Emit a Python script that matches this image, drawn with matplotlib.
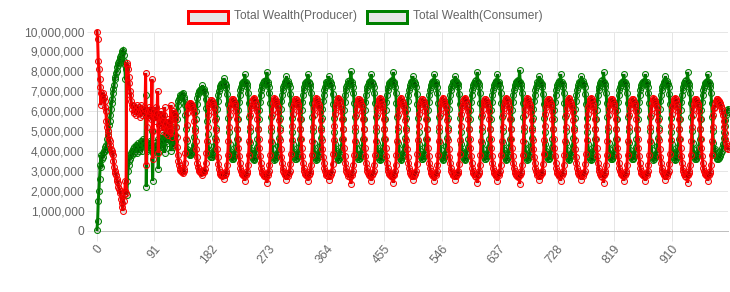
import matplotlib
matplotlib.use("Agg")
import matplotlib.pyplot as plt
from matplotlib.patches import Rectangle
from matplotlib.ticker import FuncFormatter
from matplotlib.transforms import ScaledTranslation

# Total wealth in millions, one value per step (steps 0..999)
producer_m = [
    # steps 0-144
    10.0, 9.6, 8.5, 8.1, 7.6, 7.2, 6.3, 6.9, 6.8, 6.6,
    6.9, 6.7, 6.5, 6.2, 6.0, 5.5, 5.2, 5.0, 4.8, 4.6,
    4.5, 4.3, 4.1, 4.0, 3.9, 3.8, 3.5, 3.2, 3.0, 2.9,
    2.8, 2.6, 2.5, 2.4, 2.2, 2.1, 2.0, 1.9, 1.6, 1.4,
    1.2, 1.0, 1.5, 1.8, 2.0, 2.5, 1.9, 8.4, 8.3, 8.1,
    7.7, 7.4, 7.0, 6.8, 6.5, 6.3, 6.1, 6.3, 6.0, 5.9,
    6.2, 6.0, 5.8, 6.1, 6.3, 5.9, 6.0, 6.2, 5.7, 6.0,
    6.3, 6.1, 5.8, 6.0, 6.2, 5.9, 6.1, 7.9, 3.3, 5.2,
    6.0, 5.7, 6.2, 5.8, 6.0, 5.6, 6.1, 7.6, 3.6, 5.0,
    5.8, 6.0, 5.5, 6.2, 5.7, 5.9, 7.0, 3.9, 5.3, 5.8,
    5.4, 6.0, 5.2, 5.7, 5.0, 5.5, 5.8, 6.2, 5.3, 4.9,
    5.4, 5.1, 5.6, 4.8, 5.3, 5.0, 5.5, 6.3, 4.7, 5.7,
    5.9, 6.0, 5.9, 5.8, 5.6, 5.2, 4.7, 4.2, 3.8, 3.5,
    3.3, 3.15, 3.05, 3.0, 2.95, 3.0, 2.9, 3.0, 3.1, 3.4,
    3.9, 4.6, 5.3, 5.9, 6.25,
    # steps 145-177
    6.2, 6.35, 6.4, 6.4, 6.35, 6.3, 6.2, 6.1, 5.9, 5.5, 5.0, 4.5, 4.1, 3.7, 3.4, 3.2, 3.1, 3.0, 2.95, 2.95, 2.9, 3.0, 2.8, 3.0, 2.95, 3.0, 3.1, 3.4, 3.9, 4.5, 5.2, 5.8, 6.2,
    # steps 178-211
    6.35, 6.45, 6.55, 6.55, 6.5, 6.4, 6.3, 6.2, 5.95, 5.55, 5.05, 4.55, 4.1, 3.7, 3.35, 3.1, 2.95, 2.85, 2.8, 2.8, 2.75, 2.8, 2.85, 2.6, 2.85, 2.8, 2.9, 3.0, 3.3, 3.8, 4.5, 5.2, 5.8, 6.15,
    # steps 212-244
    6.35, 6.5, 6.6, 6.6, 6.55, 6.45, 6.35, 6.25, 6.0, 5.6, 5.1, 4.6, 4.15, 3.75, 3.4, 3.15, 3.0, 2.9, 2.85, 2.8, 2.75, 2.85, 2.5, 2.85, 2.8, 2.9, 3.0, 3.3, 3.8, 4.5, 5.2, 5.8, 6.15,
    # steps 245-278
    6.3, 6.5, 6.6, 6.65, 6.6, 6.5, 6.35, 6.2, 6.0, 5.6, 5.1, 4.6, 4.15, 3.75, 3.4, 3.15, 3.0, 2.9, 2.85, 2.8, 2.75, 2.85, 2.7, 2.8, 2.4, 2.8, 2.9, 3.0, 3.3, 3.8, 4.5, 5.2, 5.8, 6.1,
    # steps 279-311
    6.4, 6.55, 6.65, 6.6, 6.5, 6.4, 6.3, 6.2, 5.95, 5.55, 5.05, 4.55, 4.1, 3.7, 3.4, 3.15, 3.0, 2.9, 2.8, 2.85, 2.75, 2.55, 2.9, 2.75, 2.85, 2.9, 3.0, 3.35, 3.85, 4.55, 5.25, 5.85, 6.2,
    # steps 312-344
    6.35, 6.5, 6.6, 6.6, 6.55, 6.45, 6.35, 6.25, 6.0, 5.6, 5.1, 4.6, 4.15, 3.75, 3.4, 3.15, 3.0, 2.9, 2.85, 2.8, 2.75, 2.85, 2.5, 2.85, 2.8, 2.9, 3.0, 3.3, 3.8, 4.5, 5.2, 5.8, 6.15,
    # steps 345-378
    6.4, 6.55, 6.65, 6.6, 6.5, 6.4, 6.3, 6.2, 5.95, 5.55, 5.05, 4.55, 4.1, 3.7, 3.4, 3.15, 3.0, 2.9, 2.8, 2.8, 2.85, 2.75, 2.55, 2.9, 2.75, 2.85, 2.9, 3.0, 3.35, 3.85, 4.55, 5.25, 5.85, 6.2,
    # steps 379-411
    6.3, 6.5, 6.6, 6.65, 6.6, 6.5, 6.35, 6.2, 6.0, 5.6, 5.1, 4.6, 4.15, 3.75, 3.4, 3.15, 3.0, 2.9, 2.85, 2.75, 2.85, 2.7, 2.8, 2.35, 2.8, 2.9, 3.0, 3.3, 3.8, 4.5, 5.2, 5.8, 6.1,
    # steps 412-444
    6.35, 6.5, 6.6, 6.6, 6.55, 6.45, 6.35, 6.25, 6.0, 5.6, 5.1, 4.6, 4.15, 3.75, 3.4, 3.15, 3.0, 2.9, 2.85, 2.8, 2.75, 2.85, 2.5, 2.85, 2.8, 2.9, 3.0, 3.3, 3.8, 4.5, 5.2, 5.8, 6.15,
    # steps 445-478
    6.3, 6.5, 6.6, 6.65, 6.6, 6.5, 6.35, 6.2, 6.0, 5.6, 5.1, 4.6, 4.15, 3.75, 3.4, 3.15, 3.0, 2.9, 2.85, 2.8, 2.75, 2.85, 2.7, 2.8, 2.4, 2.8, 2.9, 3.0, 3.3, 3.8, 4.5, 5.2, 5.8, 6.1,
    # steps 479-511
    6.4, 6.55, 6.65, 6.6, 6.5, 6.4, 6.3, 6.2, 5.95, 5.55, 5.05, 4.55, 4.1, 3.7, 3.4, 3.15, 3.0, 2.9, 2.8, 2.85, 2.75, 2.55, 2.9, 2.75, 2.85, 2.9, 3.0, 3.35, 3.85, 4.55, 5.25, 5.85, 6.2,
    # steps 512-544
    6.35, 6.5, 6.6, 6.6, 6.55, 6.45, 6.35, 6.25, 6.0, 5.6, 5.1, 4.6, 4.15, 3.75, 3.4, 3.15, 3.0, 2.9, 2.85, 2.8, 2.75, 2.85, 2.5, 2.85, 2.8, 2.9, 3.0, 3.3, 3.8, 4.5, 5.2, 5.8, 6.15,
    # steps 545-578
    6.4, 6.55, 6.65, 6.6, 6.5, 6.4, 6.3, 6.2, 5.95, 5.55, 5.05, 4.55, 4.1, 3.7, 3.4, 3.15, 3.0, 2.9, 2.8, 2.8, 2.85, 2.75, 2.55, 2.9, 2.75, 2.85, 2.9, 3.0, 3.35, 3.85, 4.55, 5.25, 5.85, 6.2,
    # steps 579-611
    6.3, 6.5, 6.6, 6.65, 6.6, 6.5, 6.35, 6.2, 6.0, 5.6, 5.1, 4.6, 4.15, 3.75, 3.4, 3.15, 3.0, 2.9, 2.85, 2.75, 2.85, 2.7, 2.8, 2.4, 2.8, 2.9, 3.0, 3.3, 3.8, 4.5, 5.2, 5.8, 6.1,
    # steps 612-644
    6.35, 6.5, 6.6, 6.6, 6.55, 6.45, 6.35, 6.25, 6.0, 5.6, 5.1, 4.6, 4.15, 3.75, 3.4, 3.15, 3.0, 2.9, 2.85, 2.8, 2.75, 2.85, 2.5, 2.85, 2.8, 2.9, 3.0, 3.3, 3.8, 4.5, 5.2, 5.8, 6.15,
    # steps 645-678
    6.3, 6.5, 6.6, 6.65, 6.6, 6.5, 6.35, 6.2, 6.0, 5.6, 5.1, 4.6, 4.15, 3.75, 3.4, 3.15, 3.0, 2.9, 2.85, 2.8, 2.75, 2.85, 2.7, 2.8, 2.35, 2.8, 2.9, 3.0, 3.3, 3.8, 4.5, 5.2, 5.8, 6.1,
    # steps 679-711
    6.4, 6.55, 6.65, 6.6, 6.5, 6.4, 6.3, 6.2, 5.95, 5.55, 5.05, 4.55, 4.1, 3.7, 3.4, 3.15, 3.0, 2.9, 2.8, 2.85, 2.75, 2.55, 2.9, 2.75, 2.85, 2.9, 3.0, 3.35, 3.85, 4.55, 5.25, 5.85, 6.2,
    # steps 712-744
    6.35, 6.5, 6.6, 6.6, 6.55, 6.45, 6.35, 6.25, 6.0, 5.6, 5.1, 4.6, 4.15, 3.75, 3.4, 3.15, 3.0, 2.9, 2.85, 2.8, 2.75, 2.85, 2.5, 2.85, 2.8, 2.9, 3.0, 3.3, 3.8, 4.5, 5.2, 5.8, 6.15,
    # steps 745-778
    6.4, 6.55, 6.65, 6.6, 6.5, 6.4, 6.3, 6.2, 5.95, 5.55, 5.05, 4.55, 4.1, 3.7, 3.4, 3.15, 3.0, 2.9, 2.8, 2.8, 2.85, 2.75, 2.55, 2.9, 2.75, 2.85, 2.9, 3.0, 3.35, 3.85, 4.55, 5.25, 5.85, 6.2,
    # steps 779-811
    6.3, 6.5, 6.6, 6.65, 6.6, 6.5, 6.35, 6.2, 6.0, 5.6, 5.1, 4.6, 4.15, 3.75, 3.4, 3.15, 3.0, 2.9, 2.85, 2.75, 2.85, 2.7, 2.8, 2.4, 2.8, 2.9, 3.0, 3.3, 3.8, 4.5, 5.2, 5.8, 6.1,
    # steps 812-844
    6.35, 6.5, 6.6, 6.6, 6.55, 6.45, 6.35, 6.25, 6.0, 5.6, 5.1, 4.6, 4.15, 3.75, 3.4, 3.15, 3.0, 2.9, 2.85, 2.8, 2.75, 2.85, 2.5, 2.85, 2.8, 2.9, 3.0, 3.3, 3.8, 4.5, 5.2, 5.8, 6.15,
    # steps 845-878
    6.35, 6.5, 6.6, 6.6, 6.55, 6.45, 6.35, 6.25, 6.0, 5.6, 5.1, 4.6, 4.15, 3.75, 3.4, 3.15, 3.0, 2.9, 2.85, 2.8, 2.8, 2.75, 2.85, 2.5, 2.85, 2.8, 2.9, 3.0, 3.3, 3.8, 4.5, 5.2, 5.8, 6.15,
    # steps 879-911
    6.4, 6.55, 6.65, 6.6, 6.5, 6.4, 6.3, 6.2, 5.95, 5.55, 5.05, 4.55, 4.1, 3.7, 3.4, 3.15, 3.0, 2.9, 2.8, 2.85, 2.75, 2.55, 2.9, 2.75, 2.85, 2.9, 3.0, 3.35, 3.85, 4.55, 5.25, 5.85, 6.2,
    # steps 912-944
    6.3, 6.5, 6.6, 6.65, 6.6, 6.5, 6.35, 6.2, 6.0, 5.6, 5.1, 4.6, 4.15, 3.75, 3.4, 3.15, 3.0, 2.9, 2.85, 2.75, 2.85, 2.7, 2.8, 2.4, 2.8, 2.9, 3.0, 3.3, 3.8, 4.5, 5.2, 5.8, 6.1,
    # steps 945-977
    6.35, 6.5, 6.6, 6.6, 6.55, 6.45, 6.35, 6.25, 6.0, 5.6, 5.1, 4.6, 4.15, 3.75, 3.4, 3.15, 3.0, 2.9, 2.85, 2.8, 2.75, 2.85, 2.5, 2.85, 2.8, 2.9, 3.0, 3.3, 3.8, 4.5, 5.2, 5.8, 6.15,
    # steps 978-999
    6.2, 6.35, 6.5, 6.6, 6.6, 6.55, 6.5, 6.45, 6.4, 6.35, 6.25, 6.1, 6.0, 5.8, 5.5, 5.2, 4.9, 4.6, 4.4, 4.25, 4.15, 4.1,
]

consumer_m = [
    # steps 0-144
    0.05, 0.5, 1.5, 2.0, 2.6, 3.3, 3.8, 3.2, 3.6, 3.9,
    3.7, 4.0, 4.0, 4.2, 4.1, 4.3, 4.6, 4.8, 5.0, 5.3,
    5.5, 5.8, 6.1, 6.4, 6.6, 6.9, 7.1, 7.3, 7.6, 7.7,
    7.9, 8.0, 8.2, 8.3, 8.4, 8.5, 8.6, 8.7, 8.8, 8.9,
    9.0, 9.05, 8.8, 8.5, 8.3, 7.6, 8.1, 1.8, 2.5, 3.0,
    3.3, 3.5, 3.8, 3.6, 3.9, 4.0, 3.8, 4.1, 3.9, 4.2,
    4.0, 4.3, 4.1, 3.9, 4.2, 4.4, 4.1, 4.0, 4.3, 4.5,
    4.2, 4.0, 4.4, 4.6, 4.3, 4.5, 4.3, 6.8, 2.2, 4.0,
    4.3, 4.1, 4.4, 4.2, 4.5, 4.3, 4.1, 5.0, 2.5, 3.9,
    4.2, 4.4, 4.1, 4.3, 4.0, 4.2, 4.6, 3.1, 4.0, 4.3,
    4.5, 4.2, 4.6, 4.4, 4.8, 4.5, 4.2, 3.9, 4.6, 4.9,
    4.5, 4.8, 4.4, 5.0, 4.7, 4.9, 4.6, 4.0, 5.2, 4.5,
    4.3, 4.2, 4.3, 4.5, 4.8, 5.2, 5.6, 6.0, 6.3, 6.5,
    6.6, 6.7, 6.8, 6.75, 6.85, 6.8, 6.9, 6.7, 6.6, 6.3,
    5.8, 5.1, 4.5, 4.1, 3.9,
    # steps 145-177
    3.95, 3.85, 3.8, 3.8, 3.85, 3.9, 4.0, 4.1, 4.3, 4.7, 5.15, 5.6, 6.0, 6.35, 6.65, 6.85, 6.95, 7.0, 7.05, 7.1, 7.1, 7.05, 7.3, 7.05, 7.1, 7.0, 6.9, 6.6, 6.15, 5.5, 4.85, 4.3, 4.0,
    # steps 178-211
    3.9, 3.75, 3.7, 3.7, 3.7, 3.8, 3.9, 4.0, 4.25, 4.65, 5.15, 5.65, 6.1, 6.5, 6.8, 7.0, 7.15, 7.25, 7.3, 7.35, 7.4, 7.35, 7.3, 7.65, 7.35, 7.4, 7.3, 7.15, 6.85, 6.35, 5.65, 4.95, 4.35, 4.0,
    # steps 212-244
    3.85, 3.7, 3.6, 3.6, 3.65, 3.75, 3.85, 3.95, 4.2, 4.6, 5.1, 5.6, 6.05, 6.45, 6.8, 7.05, 7.2, 7.3, 7.4, 7.45, 7.5, 7.4, 7.85, 7.4, 7.45, 7.35, 7.2, 6.9, 6.4, 5.7, 5.0, 4.4, 4.05,
    # steps 245-278
    3.9, 3.7, 3.6, 3.55, 3.6, 3.7, 3.85, 4.0, 4.2, 4.6, 5.1, 5.6, 6.05, 6.45, 6.8, 7.05, 7.2, 7.3, 7.4, 7.45, 7.5, 7.4, 7.55, 7.45, 7.95, 7.45, 7.35, 7.2, 6.9, 6.4, 5.7, 5.0, 4.4, 4.1,
    # steps 279-311
    3.8, 3.65, 3.55, 3.6, 3.7, 3.75, 3.85, 3.95, 4.25, 4.65, 5.15, 5.65, 6.1, 6.5, 6.8, 7.05, 7.2, 7.3, 7.45, 7.4, 7.5, 7.75, 7.35, 7.5, 7.4, 7.35, 7.2, 6.85, 6.35, 5.65, 4.95, 4.35, 4.0,
    # steps 312-344
    3.85, 3.7, 3.6, 3.6, 3.65, 3.75, 3.85, 3.95, 4.2, 4.6, 5.1, 5.6, 6.05, 6.45, 6.8, 7.05, 7.2, 7.3, 7.4, 7.45, 7.5, 7.4, 7.85, 7.4, 7.45, 7.35, 7.2, 6.9, 6.4, 5.7, 5.0, 4.4, 4.05,
    # steps 345-378
    3.8, 3.65, 3.55, 3.6, 3.7, 3.75, 3.85, 3.95, 4.25, 4.65, 5.15, 5.65, 6.1, 6.5, 6.8, 7.05, 7.2, 7.3, 7.45, 7.45, 7.4, 7.5, 7.75, 7.35, 7.5, 7.4, 7.35, 7.2, 6.85, 6.35, 5.65, 4.95, 4.35, 4.0,
    # steps 379-411
    3.9, 3.7, 3.6, 3.55, 3.6, 3.7, 3.85, 4.0, 4.2, 4.6, 5.1, 5.6, 6.05, 6.45, 6.8, 7.05, 7.2, 7.3, 7.4, 7.5, 7.4, 7.55, 7.45, 8.0, 7.45, 7.35, 7.2, 6.9, 6.4, 5.7, 5.0, 4.4, 4.1,
    # steps 412-444
    3.85, 3.7, 3.6, 3.6, 3.65, 3.75, 3.85, 3.95, 4.2, 4.6, 5.1, 5.6, 6.05, 6.45, 6.8, 7.05, 7.2, 7.3, 7.4, 7.45, 7.5, 7.4, 7.85, 7.4, 7.45, 7.35, 7.2, 6.9, 6.4, 5.7, 5.0, 4.4, 4.05,
    # steps 445-478
    3.9, 3.7, 3.6, 3.55, 3.6, 3.7, 3.85, 4.0, 4.2, 4.6, 5.1, 5.6, 6.05, 6.45, 6.8, 7.05, 7.2, 7.3, 7.4, 7.45, 7.5, 7.4, 7.55, 7.45, 7.95, 7.45, 7.35, 7.2, 6.9, 6.4, 5.7, 5.0, 4.4, 4.1,
    # steps 479-511
    3.8, 3.65, 3.55, 3.6, 3.7, 3.75, 3.85, 3.95, 4.25, 4.65, 5.15, 5.65, 6.1, 6.5, 6.8, 7.05, 7.2, 7.3, 7.45, 7.4, 7.5, 7.75, 7.35, 7.5, 7.4, 7.35, 7.2, 6.85, 6.35, 5.65, 4.95, 4.35, 4.0,
    # steps 512-544
    3.85, 3.7, 3.6, 3.6, 3.65, 3.75, 3.85, 3.95, 4.2, 4.6, 5.1, 5.6, 6.05, 6.45, 6.8, 7.05, 7.2, 7.3, 7.4, 7.45, 7.5, 7.4, 7.85, 7.4, 7.45, 7.35, 7.2, 6.9, 6.4, 5.7, 5.0, 4.4, 4.05,
    # steps 545-578
    3.8, 3.65, 3.55, 3.6, 3.7, 3.75, 3.85, 3.95, 4.25, 4.65, 5.15, 5.65, 6.1, 6.5, 6.8, 7.05, 7.2, 7.3, 7.45, 7.45, 7.4, 7.5, 7.75, 7.35, 7.5, 7.4, 7.35, 7.2, 6.85, 6.35, 5.65, 4.95, 4.35, 4.0,
    # steps 579-611
    3.9, 3.7, 3.6, 3.55, 3.6, 3.7, 3.85, 4.0, 4.2, 4.6, 5.1, 5.6, 6.05, 6.45, 6.8, 7.05, 7.2, 7.3, 7.4, 7.5, 7.4, 7.55, 7.45, 7.95, 7.45, 7.35, 7.2, 6.9, 6.4, 5.7, 5.0, 4.4, 4.1,
    # steps 612-644
    3.85, 3.7, 3.6, 3.6, 3.65, 3.75, 3.85, 3.95, 4.2, 4.6, 5.1, 5.6, 6.05, 6.45, 6.8, 7.05, 7.2, 7.3, 7.4, 7.45, 7.5, 7.4, 7.85, 7.4, 7.45, 7.35, 7.2, 6.9, 6.4, 5.7, 5.0, 4.4, 4.05,
    # steps 645-678
    3.9, 3.7, 3.6, 3.55, 3.6, 3.7, 3.85, 4.0, 4.2, 4.6, 5.1, 5.6, 6.05, 6.45, 6.8, 7.05, 7.2, 7.3, 7.4, 7.45, 7.5, 7.4, 7.55, 7.45, 8.05, 7.45, 7.35, 7.2, 6.9, 6.4, 5.7, 5.0, 4.4, 4.1,
    # steps 679-711
    3.8, 3.65, 3.55, 3.6, 3.7, 3.75, 3.85, 3.95, 4.25, 4.65, 5.15, 5.65, 6.1, 6.5, 6.8, 7.05, 7.2, 7.3, 7.45, 7.4, 7.5, 7.75, 7.35, 7.5, 7.4, 7.35, 7.2, 6.85, 6.35, 5.65, 4.95, 4.35, 4.0,
    # steps 712-744
    3.85, 3.7, 3.6, 3.6, 3.65, 3.75, 3.85, 3.95, 4.2, 4.6, 5.1, 5.6, 6.05, 6.45, 6.8, 7.05, 7.2, 7.3, 7.4, 7.45, 7.5, 7.4, 7.85, 7.4, 7.45, 7.35, 7.2, 6.9, 6.4, 5.7, 5.0, 4.4, 4.05,
    # steps 745-778
    3.8, 3.65, 3.55, 3.6, 3.7, 3.75, 3.85, 3.95, 4.25, 4.65, 5.15, 5.65, 6.1, 6.5, 6.8, 7.05, 7.2, 7.3, 7.45, 7.45, 7.4, 7.5, 7.75, 7.35, 7.5, 7.4, 7.35, 7.2, 6.85, 6.35, 5.65, 4.95, 4.35, 4.0,
    # steps 779-811
    3.9, 3.7, 3.6, 3.55, 3.6, 3.7, 3.85, 4.0, 4.2, 4.6, 5.1, 5.6, 6.05, 6.45, 6.8, 7.05, 7.2, 7.3, 7.4, 7.5, 7.4, 7.55, 7.45, 7.95, 7.45, 7.35, 7.2, 6.9, 6.4, 5.7, 5.0, 4.4, 4.1,
    # steps 812-844
    3.85, 3.7, 3.6, 3.6, 3.65, 3.75, 3.85, 3.95, 4.2, 4.6, 5.1, 5.6, 6.05, 6.45, 6.8, 7.05, 7.2, 7.3, 7.4, 7.45, 7.5, 7.4, 7.85, 7.4, 7.45, 7.35, 7.2, 6.9, 6.4, 5.7, 5.0, 4.4, 4.05,
    # steps 845-878
    3.85, 3.7, 3.6, 3.6, 3.65, 3.75, 3.85, 3.95, 4.2, 4.6, 5.1, 5.6, 6.05, 6.45, 6.8, 7.05, 7.2, 7.3, 7.4, 7.45, 7.45, 7.5, 7.4, 7.85, 7.4, 7.45, 7.35, 7.2, 6.9, 6.4, 5.7, 5.0, 4.4, 4.05,
    # steps 879-911
    3.8, 3.65, 3.55, 3.6, 3.7, 3.75, 3.85, 3.95, 4.25, 4.65, 5.15, 5.65, 6.1, 6.5, 6.8, 7.05, 7.2, 7.3, 7.45, 7.4, 7.5, 7.75, 7.35, 7.5, 7.4, 7.35, 7.2, 6.85, 6.35, 5.65, 4.95, 4.35, 4.0,
    # steps 912-944
    3.9, 3.7, 3.6, 3.55, 3.6, 3.7, 3.85, 4.0, 4.2, 4.6, 5.1, 5.6, 6.05, 6.45, 6.8, 7.05, 7.2, 7.3, 7.4, 7.5, 7.4, 7.55, 7.45, 7.95, 7.45, 7.35, 7.2, 6.9, 6.4, 5.7, 5.0, 4.4, 4.1,
    # steps 945-977
    3.85, 3.7, 3.6, 3.6, 3.65, 3.75, 3.85, 3.95, 4.2, 4.6, 5.1, 5.6, 6.05, 6.45, 6.8, 7.05, 7.2, 7.3, 7.4, 7.45, 7.5, 7.4, 7.85, 7.4, 7.45, 7.35, 7.2, 6.9, 6.4, 5.7, 5.0, 4.4, 4.05,
    # steps 978-999
    4.1, 3.9, 3.75, 3.65, 3.6, 3.6, 3.65, 3.7, 3.75, 3.8, 3.9, 4.0, 4.15, 4.35, 4.65, 4.95, 5.25, 5.55, 5.8, 5.95, 6.05, 6.1,
]

series_names = ["Total Wealth(Producer)", "Total Wealth(Consumer)"]
series_colors = ["#ff0000", "#008000"]
tick_step = 91
y_ticks_m = [0, 1, 2, 3, 4, 5, 6, 7, 8, 9, 10]

W, H = 730, 292
fig = plt.figure(figsize=(W / 100, H / 100), dpi=100)
ax_left, ax_right, ax_top, ax_bottom = 97, 728, 31.5, 230.5
ax = fig.add_axes([ax_left / W, 1 - ax_bottom / H, (ax_right - ax_left) / W, (ax_bottom - ax_top) / H])

px = 0.72
n = max(len(producer_m), len(consumer_m))
steps_p = list(range(len(producer_m)))
steps_c = list(range(len(consumer_m)))
prod = [v * 1e6 for v in producer_m]
cons = [v * 1e6 for v in consumer_m]

fill = (0, 0, 0, 0.1)
# consumer drawn first (below), producer on top
ax.plot(steps_c, cons, color=series_colors[1], lw=3 * px, solid_joinstyle="miter", zorder=3, clip_on=False)
ax.plot(steps_c, cons, ls="none", marker="o", ms=6 * px, mfc=fill, mec=series_colors[1], mew=1 * px, zorder=4, clip_on=False)
ax.plot(steps_p, prod, color=series_colors[0], lw=3 * px, solid_joinstyle="miter", zorder=5, clip_on=False)
ax.plot(steps_p, prod, ls="none", marker="o", ms=6 * px, mfc=fill, mec=series_colors[0], mew=1 * px, zorder=6, clip_on=False)

ax.set_xlim(0, n - 1)
ax.set_ylim(0, 10e6)
xt = list(range(0, n, tick_step))
ax.set_xticks(xt)
ax.set_xticklabels([str(t) for t in xt], rotation=50, ha="right", va="center", rotation_mode="anchor")
ax.set_yticks([v * 1e6 for v in y_ticks_m])
ax.yaxis.set_major_formatter(FuncFormatter(lambda v, p: f"{int(round(v)):,}"))

grid_c = "#e6e6e6"
zero_c = "#bfbfbf"
ax.tick_params(axis="both", length=10 * px, width=1 * px, color=grid_c, labelcolor="#666666", labelsize=12 * px,
               grid_color=grid_c, grid_linewidth=1 * px, grid_alpha=1.0)
ax.tick_params(axis="y", pad=2.5 * px)
ax.tick_params(axis="x", pad=6 * px)
ax.grid(True)
ax.set_axisbelow(True)
for s in ["top", "right"]:
    ax.spines[s].set_visible(False)
for s in ["left", "bottom"]:
    ax.spines[s].set_color(zero_c)
    ax.spines[s].set_linewidth(1 * px)
    ax.spines[s].set_zorder(1)

font = "Liberation Sans"
shift = ScaledTranslation(4 / 100, 0, fig.dpi_scale_trans)
for lab in ax.get_xticklabels():
    lab.set_fontfamily(font)
    lab.set_transform(lab.get_transform() + shift)
for lab in ax.get_yticklabels():
    lab.set_fontfamily(font)

# legend at top centre
box_w, box_h = 40, 12
legend_items = [(188, 234), (366.5, 413)]
for (bx, tx), name, col in zip(legend_items, series_names, series_colors):
    fig.patches.append(Rectangle((bx / W, 1 - 22.5 / H), box_w / W, box_h / H, transform=fig.transFigure,
                                 facecolor="#e6e6e6", edgecolor=col, lw=3 * px, joinstyle="miter"))
    fig.text(tx / W, 1 - 16.5 / H, name, ha="left", va="center", fontsize=12 * px, color="#666666", family=font)

fig.savefig("out.png", dpi=100)
